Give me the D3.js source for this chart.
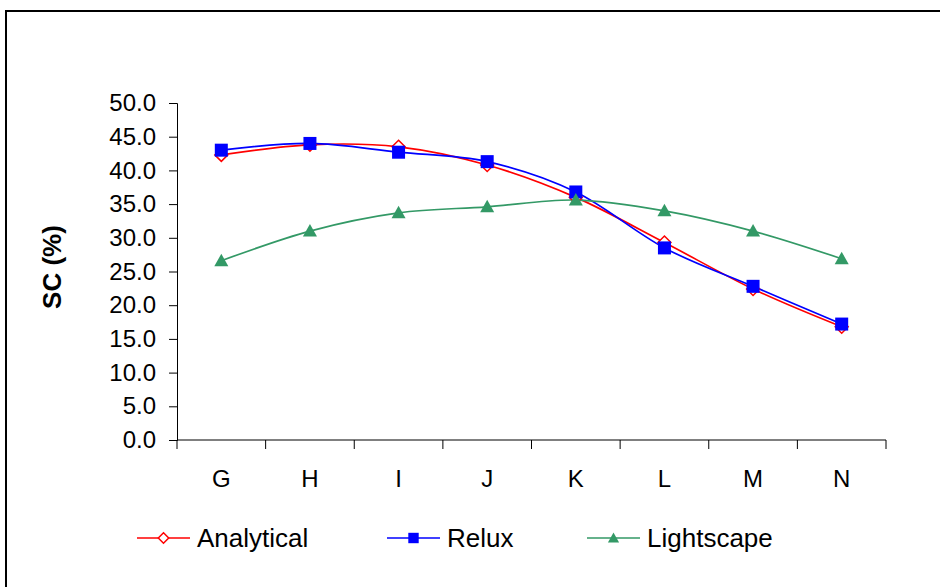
<!DOCTYPE html>
<html><head><meta charset="utf-8">
<script src="https://cdn.jsdelivr.net/npm/d3@7"></script>
<style>body{margin:0;background:#fff}svg{display:block;font-family:"Liberation Sans",Arial,sans-serif}</style>
</head><body>
<svg id="c" width="940" height="587"></svg>
<script>
const categories = ["G","H","I","J","K","L","M","N"];
const analytical = [42.3, 43.8, 43.5, 40.8, 36.0, 29.3, 22.4, 16.8];
const relux      = [43.0, 44.0, 42.7, 41.3, 36.8, 28.5, 22.8, 17.2];
const lightscape = [26.6, 31.0, 33.7, 34.6, 35.6, 34.0, 31.0, 26.9];
const yTicks = [0,5,10,15,20,25,30,35,40,45,50];
const seriesNames = ["Analytical","Relux","Lightscape"];

const svg = d3.select("#c");
svg.append("rect").attr("x",6).attr("y",11).attr("width",960).attr("height",600)
  .attr("fill","#fff").attr("stroke","#000").attr("stroke-width",2);

const L=177, R=886, T=103, B=440;
const x = d3.scaleBand().domain(categories).range([L,R]);
const y = d3.scaleLinear().domain([0,50]).range([B,T]);
const FF = "Liberation Sans, Arial, sans-serif";

// y axis
const ya = svg.append("g").attr("transform",`translate(${L},0)`)
  .call(d3.axisLeft(y).tickValues(yTicks).tickFormat(d3.format(".1f")).tickSizeOuter(0).tickSize(8).tickPadding(13));
ya.select(".domain").attr("stroke","#000");
ya.selectAll("line").attr("stroke","#000");
ya.selectAll("text").attr("font-size",24).attr("fill","#000").attr("font-family",FF);

// x axis
const xa = svg.append("g").attr("transform",`translate(0,${B})`)
  .call(d3.axisBottom(x).tickSize(0));
xa.select(".domain").attr("stroke","#000").attr("d",`M${L},0H${R}`);
xa.selectAll("text").attr("font-size",24).attr("fill","#000").attr("font-family",FF)
  .attr("y",47).attr("dy",0);
xa.selectAll(".bnd").data(categories.map(c=>x(c)).concat([R])).enter().append("line")
  .attr("x1",d=>d).attr("x2",d=>d).attr("y1",0).attr("y2",9).attr("stroke","#000");

svg.append("text").attr("transform",`translate(61,267) rotate(-90)`)
  .attr("text-anchor","middle").attr("font-size",26).attr("font-weight","bold").attr("font-family",FF).text("SC (%)");

const cx = c => x(c)+x.bandwidth()/2;
const line = d3.line().curve(d3.curveCardinal.tension(0)).x((d,i)=>cx(categories[i])).y(d=>y(d));

const series = [
  {name:"Analytical", vals:analytical, color:"#ff0000", sym:"diamond"},
  {name:"Relux", vals:relux, color:"#0000ff", sym:"square"},
  {name:"Lightscape", vals:lightscape, color:"#339966", sym:"triangle"}
];
function marker(g, s, px, py, k){
  if(s.sym==="diamond"){
    const r=6.5*k;
    g.append("path").attr("d",`M${px},${py-r}L${px+r},${py}L${px},${py+r}L${px-r},${py}Z`)
      .attr("fill","#fff").attr("stroke",s.color).attr("stroke-width",1.5);
  } else if(s.sym==="square"){
    const h=6.5*k;
    g.append("rect").attr("x",px-h).attr("y",py-h).attr("width",2*h).attr("height",2*h).attr("fill",s.color);
  } else {
    const w=7*k;
    g.append("path").attr("d",`M${px},${py-7*k}L${px+w},${py+5.5*k}L${px-w},${py+5.5*k}Z`).attr("fill",s.color);
  }
}
series.forEach(s=>{
  svg.append("path").attr("d",line(s.vals)).attr("fill","none").attr("stroke",s.color).attr("stroke-width",1.7);
});
series.forEach(s=>{
  const g = svg.append("g");
  s.vals.forEach((v,i)=>marker(g,s,cx(categories[i]),y(v),1));
});

// legend
const legX = [137,387,587];
series.forEach((s,i)=>{
  const g = svg.append("g");
  const ly = 538;
  g.append("line").attr("x1",legX[i]).attr("x2",legX[i]+53).attr("y1",ly).attr("y2",ly).attr("stroke",s.color).attr("stroke-width",1.5);
  marker(g,s,legX[i]+26.5,ly,0.8);
  g.append("text").attr("x",legX[i]+60).attr("y",547).attr("font-size",26).attr("fill","#000").attr("font-family",FF).text(s.name);
});
</script>
</body></html>
